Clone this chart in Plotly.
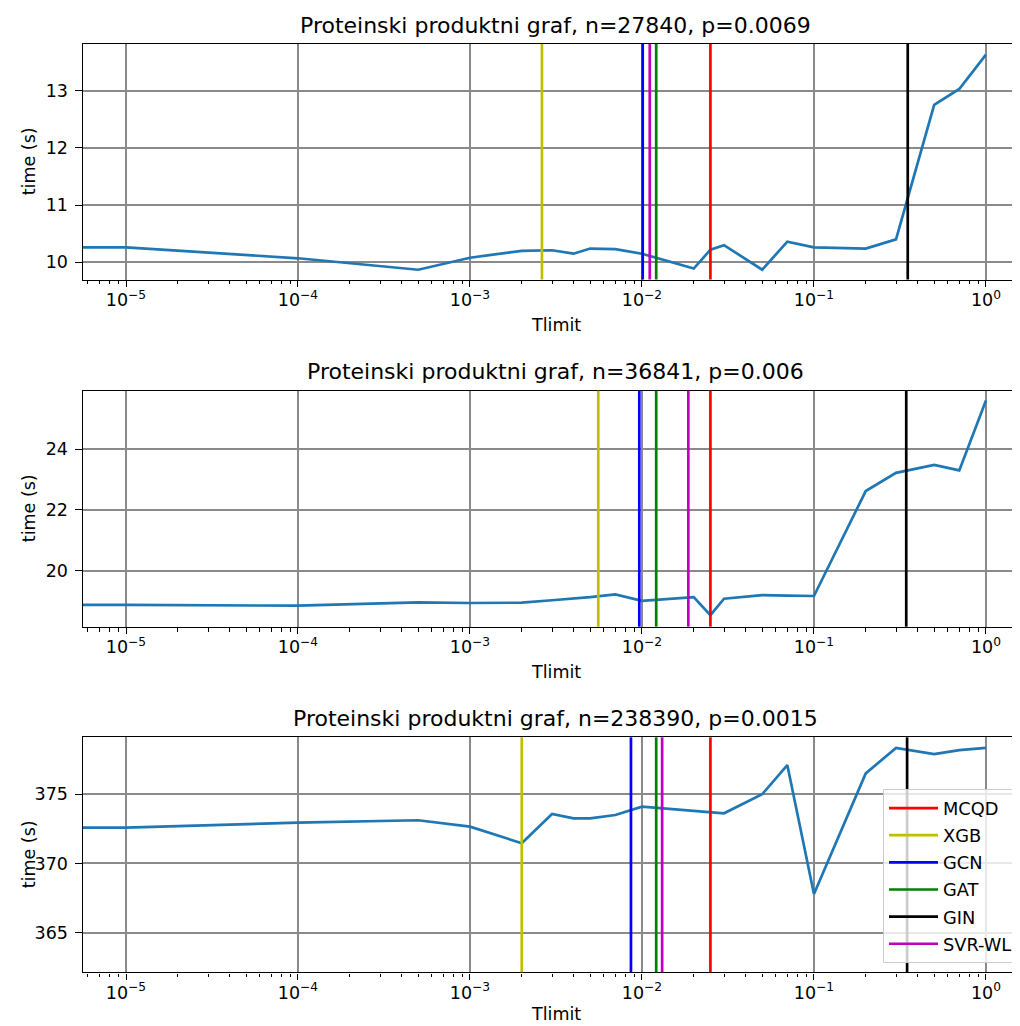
import plotly.graph_objects as go

# ---------------- data ----------------
# first run used Tlimit = 0; on a log axis it sits off the left edge, so a tiny value stands in for it
tlimit = [1e-9, 1e-5, 1e-4, 5e-4, 1e-3, 2e-3, 3e-3, 4e-3, 5e-3, 7e-3, 1e-2, 2e-2, 2.5e-2,
          3e-2, 5e-2, 7e-2, 0.1, 0.2, 0.3, 0.5, 0.7, 1.0]

time1 = [10.26, 10.26, 10.07, 9.87, 10.08, 10.20, 10.21, 10.15, 10.24, 10.23, 10.15, 9.89,
         10.22, 10.30, 9.87, 10.36, 10.26, 10.24, 10.40, 12.75, 13.03, 13.63]
time2 = [18.88, 18.88, 18.85, 18.96, 18.94, 18.95, 19.03, 19.08, 19.13, 19.22, 19.01, 19.13,
         18.54, 19.08, 19.20, 19.18, 19.17, 22.62, 23.22, 23.48, 23.30, 25.60]
time3 = [372.58, 372.58, 372.94, 373.11, 372.65, 371.46, 373.56, 373.25, 373.25, 373.49, 374.09,
         373.76, 373.69, 373.61, 374.98, 377.08, 367.80, 376.48, 378.32, 377.87, 378.16, 378.32]

methods = ["MCQD", "XGB", "GCN", "GAT", "GIN", "SVR-WL"]
method_colors = ["#ff0000", "#bfbf00", "#0000ff", "#008000", "#000000", "#bf00bf"]
vlines1 = [0.025, 0.00262, 0.0101, 0.0121, 0.351, 0.0111]
vlines2 = [0.025, 0.00557, 0.00965, 0.0121, 0.344, 0.0186]
vlines3 = [0.025, 0.0020, 0.00863, 0.0121, 0.348, 0.0131]

titles = ["Proteinski produktni graf, n=27840, p=0.0069",
          "Proteinski produktni graf, n=36841, p=0.006",
          "Proteinski produktni graf, n=238390, p=0.0015"]
y_ranges = [[9.699, 13.816], [18.16, 25.92], [362.17, 379.08]]
y_ticks = [[10, 11, 12, 13], [20, 22, 24], [365, 370, 375]]
x_tickvals = [1e-5, 1e-4, 1e-3, 1e-2, 1e-1, 1]
x_ticktext = ["10<sup>−5</sup>", "10<sup>−4</sup>", "10<sup>−3</sup>",
              "10<sup>−2</sup>", "10<sup>−1</sup>", "10<sup>0</sup>"]

# ---------------- layout geometry ----------------
# the html page has an 8px body margin, so figure coords = page coords - 8
OFF = 8
W, H = 1020 - OFF, 1026 - OFF
FONT = "DejaVu Sans"
ax_left = 83 - OFF
panels = [(44 - OFF, 279.5 - OFF), (390.7 - OFF, 626.7 - OFF), (737.3 - OFF, 972.3 - OFF)]
x_range = [-5.25, 0.198]
title_center_x = ((83 + 1028) / 2 - OFF) / W

fig = go.Figure()
series = [time1, time2, time3]
vlines = [vlines1, vlines2, vlines3]

annotations = []
for i in range(3):
    n = "" if i == 0 else str(i + 1)
    xa, ya = "x" + n, "y" + n
    top, bot = panels[i]
    fig.add_trace(go.Scatter(x=tlimit, y=series[i], mode="lines",
                             line=dict(color="#1f77b4", width=2.7),
                             xaxis=xa, yaxis=ya, showlegend=False, hoverinfo="x+y"))
    for k, (m, c, v) in enumerate(zip(methods, method_colors, vlines[i])):
        fig.add_shape(type="line", xref=xa, yref=ya + " domain", x0=v, x1=v, y0=0, y1=1,
                      line=dict(color=c, width=2.7), layer="above",
                      name=m, showlegend=(i == 2), legendgroup=m, legendrank=k + 1)
    common = dict(showline=True, linecolor="black", linewidth=1.45,
                  showgrid=True, gridcolor="#8a8a8a", gridwidth=1.5,
                  ticks="outside", ticklen=6.3, tickwidth=1.45, tickcolor="black",
                  tickfont=dict(family=FONT, size=17.5, color="black"),
                  zeroline=False)
    fig.layout["xaxis" + n] = dict(
        common, type="log", range=x_range, domain=[ax_left / W, 1.0], anchor=ya,
        mirror=True, tickmode="array", tickvals=x_tickvals, ticktext=x_ticktext,
        ticklabelstandoff=-2,
        minor=dict(dtick="D1", ticks="outside", ticklen=3.6, tickwidth=1.1,
                   tickcolor="black", showgrid=False))
    fig.layout["yaxis" + n] = dict(
        common, range=y_ranges[i], domain=[1 - bot / H, 1 - top / H], anchor=xa,
        mirror=False, tickmode="array", tickvals=y_ticks[i], ticklabelstandoff=4)
    annotations.append(dict(text=titles[i], xref="paper", yref="paper",
                            x=title_center_x, y=1 - (top - 19) / H, showarrow=False,
                            xanchor="center", yanchor="middle",
                            font=dict(family=FONT, size=22, color="black")))
    if i < 2:
        tl_pos = dict(y=1 - (bot + 45.5) / H, yanchor="middle")
    else:
        tl_pos = dict(y=0, yanchor="bottom")
    annotations.append(dict(text="Tlimit", xref="paper", yref="paper",
                            x=title_center_x, showarrow=False, xanchor="center",
                            font=dict(family=FONT, size=17.5, color="black"), **tl_pos))
    annotations.append(dict(text="time (s)", xref="paper", yref="paper",
                            x=(28.5 - OFF) / W, y=1 - (top + bot) / 2 / H, showarrow=False,
                            textangle=-90, xanchor="center", yanchor="middle",
                            font=dict(family=FONT, size=17.5, color="black")))

fig.update_layout(
    width=W, height=H, margin=dict(l=0, r=0, t=0, b=0),
    plot_bgcolor="white", paper_bgcolor="white",
    font=dict(family=FONT, size=17.5, color="black"),
    annotations=annotations,
    legend=dict(x=(1018 - OFF) / W, y=1 - (963 - OFF) / H, xanchor="right", yanchor="bottom",
                bgcolor="rgba(255,255,255,0.8)", bordercolor="#cccccc", borderwidth=1,
                font=dict(family=FONT, size=17.8, color="black"),
                itemwidth=49, tracegroupgap=1),
)

fig.write_html("out.html")
